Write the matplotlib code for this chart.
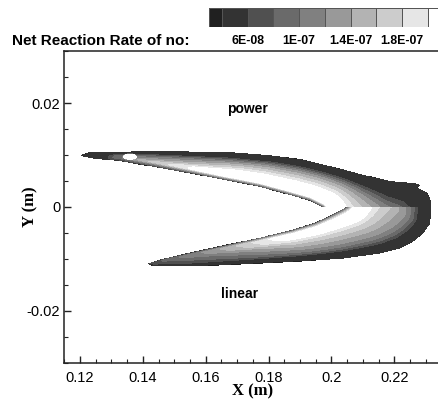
import numpy as np
import matplotlib
matplotlib.use("Agg")
import matplotlib.pyplot as plt
from matplotlib.path import Path
from matplotlib.colors import ListedColormap

plt.rcParams["font.family"] = ["Liberation Sans", "DejaVu Sans"]

# contour levels and their grey fills
levels = [3e-8, 4e-8, 6e-8, 8e-8, 1.0e-7, 1.2e-7, 1.4e-7, 1.6e-7, 1.8e-7, 2.0e-7, 2.2e-7]
band_colors = ["#202020", "#333333", "#505050", "#6a6a6a", "#808080",
               "#999999", "#b3b3b3", "#cccccc", "#e6e6e6", "#ffffff"]
legend_ticks = [6e-8, 1e-7, 1.4e-7, 1.8e-7]
legend_labels = ["6E-08", "1E-07", "1.4E-07", "1.8E-07"]

# upper half ("power"): flame front edges (x, y) in m
power_inner = [(0.1200, 0.00992), (0.1248, 0.00935), (0.1327, 0.00897), (0.1381, 0.00839),
               (0.1455, 0.00762), (0.1560, 0.00647), (0.1677, 0.00512), (0.1773, 0.00397),
               (0.1878, 0.00224), (0.1932, 0.00129), (0.1957, 0.00052), (0.1973, 0.0)]
power_outer = [(0.1200, 0.00992), (0.1232, 0.01050), (0.1455, 0.01069), (0.1677, 0.01050),
               (0.1805, 0.00992), (0.1900, 0.00916), (0.1996, 0.00781), (0.2091, 0.00628),
               (0.2186, 0.00493), (0.2263, 0.00455), (0.2282, 0.00417), (0.2269, 0.00378),
               (0.2301, 0.00282), (0.2313, 0.00167), (0.2316, 0.0)]
# peak rate along the front (0 = tip, 1 = axis) and profile across it (0 = inner, 1 = outer)
power_amp_s = [0.0, 0.10, 0.12, 0.20, 0.35, 0.55, 1.0]
power_amp_v = [0.6e-7, 0.7e-7, 1.1e-7, 1.5e-7, 1.85e-7, 2.4e-7, 2.4e-7]
power_prof_t = [0.0, 0.30, 0.40, 0.50, 0.60, 0.68, 0.75, 0.80, 1.0]
power_prof_g = [1.0, 1.0, 0.80, 0.66, 0.52, 0.38, 0.22, 0.08, 0.0]
# small hot pocket near the upper tip
spot_xy = (0.1359, 0.0097)
spot_r = (0.0020, 0.0005)
spot_v = 2.3e-7

# lower half ("linear")
linear_inner = [(0.1417, -0.0110), (0.1455, -0.01023), (0.1550, -0.00889), (0.1668, -0.00735),
                (0.1773, -0.00600), (0.1878, -0.00447), (0.1948, -0.00313), (0.1996, -0.00179),
                (0.2027, -0.00083), (0.2050, 0.0)]
linear_outer = [(0.1417, -0.0110), (0.1439, -0.01138), (0.1560, -0.01138), (0.1773, -0.01081),
                (0.1900, -0.01042), (0.2037, -0.00985), (0.2154, -0.00889), (0.2218, -0.00793),
                (0.2260, -0.00658), (0.2291, -0.00505), (0.2313, -0.00313), (0.2316, 0.0)]
linear_amp_s = [0.0, 0.12, 0.30, 0.45, 0.60, 1.0]
linear_amp_v = [0.65e-7, 0.95e-7, 1.3e-7, 1.7e-7, 2.1e-7, 2.35e-7]
linear_prof_t = [0.0, 0.05, 0.12, 0.28, 0.40, 0.50, 0.60, 0.70, 0.78, 0.84, 1.0]
linear_prof_g = [0.15, 0.55, 1.0, 0.95, 0.75, 0.64, 0.52, 0.40, 0.25, 0.08, 0.0]

edge_v = 4.5e-8

fig = plt.figure(figsize=(4.38, 4.01), dpi=100)
ax = fig.add_axes([0.1468, 0.096, 0.861, 0.7756])
ax.set_xlim(0.115, 0.235)
ax.set_ylim(-0.03, 0.03)

# pixels per metre, so distances are measured as seen on screen
px_x = 0.861 * 438 / 0.12
px_y = 0.7756 * 401 / 0.06
scale = np.array([px_x, px_y])


def polyline_dist(P, line):
    A, B = line[:-1], line[1:]
    AB = B - A
    L2 = (AB ** 2).sum(1)
    AP = P[:, None, :] - A[None]
    t = np.clip((AP * AB[None]).sum(2) / L2, 0, 1)
    proj = A[None] + t[..., None] * AB[None]
    d = np.hypot(P[:, None, 0] - proj[..., 0], P[:, None, 1] - proj[..., 1])
    k = d.argmin(1)
    i = np.arange(len(P))
    seg = np.sqrt(L2)
    cum = np.concatenate([[0], np.cumsum(seg)])
    return d[i, k], (cum[k] + t[i, k] * seg[k]) / cum[-1]


def arm_field(X, Y, inner, outer, amp_s, amp_v, prof_t, prof_g, line_w=0):
    P = np.column_stack([X.ravel(), Y.ravel()]) * scale
    inn = np.asarray(inner) * scale
    out = np.asarray(outer) * scale
    inside = Path(np.vstack([inn, out[::-1]])).contains_points(P)
    d_in, s_in = polyline_dist(P, inn)
    d_out, s_out = polyline_dist(P, out)
    t = d_in / (d_in + d_out + 1e-9)
    s = (1 - t) * s_in + t * s_out
    amp = np.interp(s, amp_s, amp_v)
    v = edge_v + (amp - edge_v) * np.interp(t, prof_t, prof_g)
    if line_w:
        v = edge_v + (v - edge_v) * np.interp(d_in, [0, line_w, 2 * line_w], [0.1, 0.5, 1.0])
    v[~inside] = 0
    return v.reshape(X.shape)


xg = np.linspace(0.117, 0.234, 760)
Xu, Yu = np.meshgrid(xg, np.linspace(1e-6, 0.0118, 130))
Xl, Yl = np.meshgrid(xg, np.linspace(-0.0122, -1e-6, 130))
Vu = arm_field(Xu, Yu, power_inner, power_outer, power_amp_s, power_amp_v,
               power_prof_t, power_prof_g, line_w=2.0)
rr = ((Xu - spot_xy[0]) / spot_r[0]) ** 2 + ((Yu - spot_xy[1]) / spot_r[1]) ** 2
Vu = np.where((Vu > 0) & (rr < 1), spot_v, Vu)
Vl = arm_field(Xl, Yl, linear_inner, linear_outer, linear_amp_s, linear_amp_v,
               linear_prof_t, linear_prof_g)

fill_levels = levels[:-1] + [1.0]
ax.contourf(Xu, Yu, Vu, levels=fill_levels, colors=band_colors)
ax.contourf(Xl, Yl, Vl, levels=fill_levels, colors=band_colors)

ax.text(0.1734, 0.0189, "power", ha="center", va="center", fontsize=10, fontweight="bold")
ax.text(0.1709, -0.0168, "linear", ha="center", va="center", fontsize=10, fontweight="bold")

ax.set_xticks([0.12, 0.14, 0.16, 0.18, 0.2, 0.22])
ax.set_xticklabels(["0.12", "0.14", "0.16", "0.18", "0.2", "0.22"])
ax.set_yticks([-0.02, 0, 0.02])
ax.set_yticklabels(["-0.02", "0", "0.02"])
ax.set_xticks(np.arange(0.115, 0.2351, 0.005), minor=True)
ax.set_yticks(np.arange(-0.03, 0.0301, 0.005), minor=True)
ax.tick_params(which="both", direction="in", top=False, right=False, color="#222")
ax.tick_params(which="major", length=5, width=1, labelsize=10.5)
ax.tick_params(which="minor", length=3, width=0.8)
ax.tick_params(axis="x", pad=6)
ax.tick_params(axis="y", pad=3)
for sp in ax.spines.values():
    sp.set_linewidth(1.1)
    sp.set_color("#222")

ax.set_xlabel("X (m)", family="Liberation Serif", fontweight="bold", fontsize=12)
ax.set_ylabel("Y (m)", family="Liberation Serif", fontweight="bold", fontsize=12)
ax.xaxis.set_label_coords(0.5, -0.0916)
ax.xaxis.label.set_va("center")
ax.yaxis.set_label_coords(-0.091, 0.5)
ax.yaxis.label.set_va("center")

# legend strip
fig.text(12 / 438, 1 - 41 / 401, "Net Reaction Rate of no:", ha="left", va="center",
         fontsize=11, fontweight="bold")
cax = fig.add_axes([209 / 438, 1 - 27 / 401, (438 - 209) / 438, 19 / 401])
cax.pcolormesh(levels, [0, 1], np.arange(len(band_colors))[None, :],
               cmap=ListedColormap(band_colors), edgecolors="#555", linewidth=0.5)
cax.set_xlim(3.0e-8, 2.08e-7)
cax.set_ylim(0, 1)
cax.set_yticks([])
cax.set_xticks(legend_ticks)
cax.set_xticklabels(legend_labels, fontweight="bold")
cax.tick_params(axis="x", length=0, pad=6, labelsize=8.8)
for sp in cax.spines.values():
    sp.set_visible(False)

fig.savefig("out.png", dpi=100)
